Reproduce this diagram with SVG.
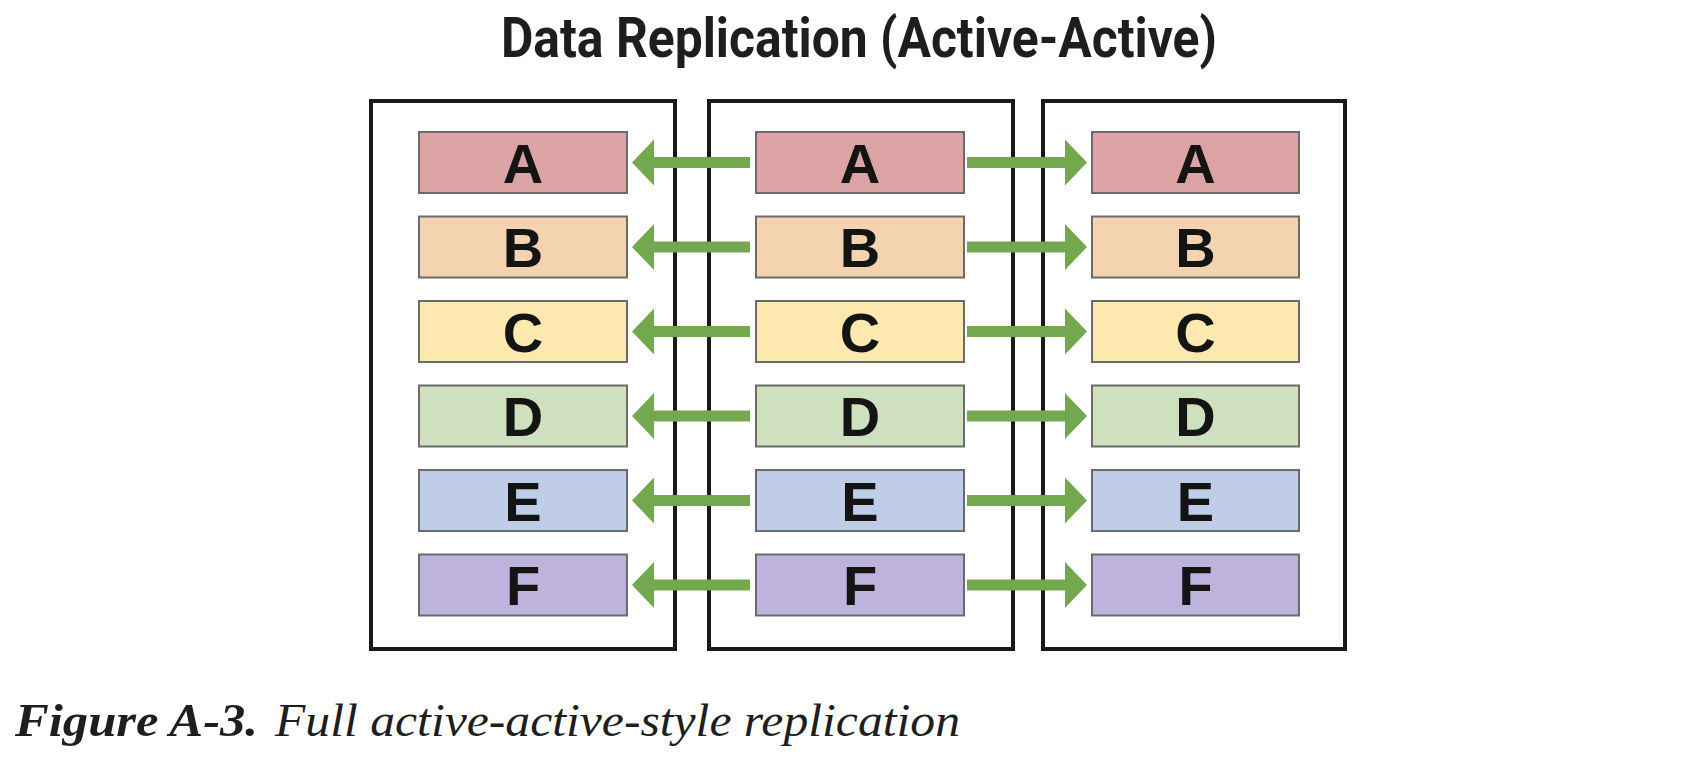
<svg xmlns="http://www.w3.org/2000/svg" width="1704" height="770" viewBox="0 0 1704 770">
<style>
.title{font-family:Roboto,"Liberation Sans",sans-serif;font-weight:700;font-size:55px;fill:#1e1e1e}
.cont{fill:none;stroke:#1a1a1a;stroke-width:4}
.box{stroke:#6b6b6b;stroke-width:2}
.lbl{font-family:"Liberation Sans",Arial,sans-serif;font-weight:700;font-size:56px;fill:#141414;text-anchor:middle}
.a{fill:#dba3a4}.b{fill:#f4d4b0}.c{fill:#fde8b0}.d{fill:#cfe0bf}.e{fill:#bfcde9}.f{fill:#bdb3dc}
.arr{fill:#73a84f}
.cap{font-family:"Liberation Serif","Times New Roman",serif;font-style:italic;font-size:46px;fill:#1e1e1e}
</style>
<defs>
<path id="la" d="M750,-5.5 L654,-5.5 L654,-23 L632,0 L654,23 L654,5.5 L750,5.5 Z"/>
<path id="ra" d="M967,-5.5 L1065,-5.5 L1065,-23 L1087,0 L1065,23 L1065,5.5 L967,5.5 Z"/>
</defs>
<rect width="1704" height="770" fill="#ffffff"/>
<text class="title" x="859" y="57" text-anchor="middle" textLength="716" lengthAdjust="spacingAndGlyphs">Data Replication (Active-Active)</text>

<g id="site-left"><rect class="cont" x="371" y="101" width="304" height="548"/></g>
<g id="site-middle"><rect class="cont" x="709" y="101" width="304" height="548"/></g>
<g id="site-right"><rect class="cont" x="1043" y="101" width="302" height="548"/></g>

<g id="connectors" class="arr">
<use href="#la" y="162.5"/><use href="#ra" y="162.5"/>
<use href="#la" y="247"/><use href="#ra" y="247"/>
<use href="#la" y="331.5"/><use href="#ra" y="331.5"/>
<use href="#la" y="416"/><use href="#ra" y="416"/>
<use href="#la" y="500.5"/><use href="#ra" y="500.5"/>
<use href="#la" y="585"/><use href="#ra" y="585"/>
</g>

<g id="left-A"><rect class="box a" x="419" y="132" width="208" height="61"/><text class="lbl" x="523" y="182.5">A</text></g>
<g id="left-B"><rect class="box b" x="419" y="216.5" width="208" height="61"/><text class="lbl" x="523" y="267">B</text></g>
<g id="left-C"><rect class="box c" x="419" y="301" width="208" height="61"/><text class="lbl" x="523" y="351.5">C</text></g>
<g id="left-D"><rect class="box d" x="419" y="385.5" width="208" height="61"/><text class="lbl" x="523" y="436">D</text></g>
<g id="left-E"><rect class="box e" x="419" y="470" width="208" height="61"/><text class="lbl" x="523" y="520.5">E</text></g>
<g id="left-F"><rect class="box f" x="419" y="554.5" width="208" height="61"/><text class="lbl" x="523" y="605">F</text></g>

<g id="mid-A"><rect class="box a" x="756" y="132" width="208" height="61"/><text class="lbl" x="860" y="182.5">A</text></g>
<g id="mid-B"><rect class="box b" x="756" y="216.5" width="208" height="61"/><text class="lbl" x="860" y="267">B</text></g>
<g id="mid-C"><rect class="box c" x="756" y="301" width="208" height="61"/><text class="lbl" x="860" y="351.5">C</text></g>
<g id="mid-D"><rect class="box d" x="756" y="385.5" width="208" height="61"/><text class="lbl" x="860" y="436">D</text></g>
<g id="mid-E"><rect class="box e" x="756" y="470" width="208" height="61"/><text class="lbl" x="860" y="520.5">E</text></g>
<g id="mid-F"><rect class="box f" x="756" y="554.5" width="208" height="61"/><text class="lbl" x="860" y="605">F</text></g>

<g id="right-A"><rect class="box a" x="1092" y="132" width="207" height="61"/><text class="lbl" x="1195.5" y="182.5">A</text></g>
<g id="right-B"><rect class="box b" x="1092" y="216.5" width="207" height="61"/><text class="lbl" x="1195.5" y="267">B</text></g>
<g id="right-C"><rect class="box c" x="1092" y="301" width="207" height="61"/><text class="lbl" x="1195.5" y="351.5">C</text></g>
<g id="right-D"><rect class="box d" x="1092" y="385.5" width="207" height="61"/><text class="lbl" x="1195.5" y="436">D</text></g>
<g id="right-E"><rect class="box e" x="1092" y="470" width="207" height="61"/><text class="lbl" x="1195.5" y="520.5">E</text></g>
<g id="right-F"><rect class="box f" x="1092" y="554.5" width="207" height="61"/><text class="lbl" x="1195.5" y="605">F</text></g>

<text class="cap" x="15" y="736"><tspan font-weight="700" textLength="243" lengthAdjust="spacingAndGlyphs">Figure A-3.</tspan></text>
<text class="cap" x="275" y="736" textLength="685" lengthAdjust="spacingAndGlyphs">Full active-active-style replication</text>
</svg>
